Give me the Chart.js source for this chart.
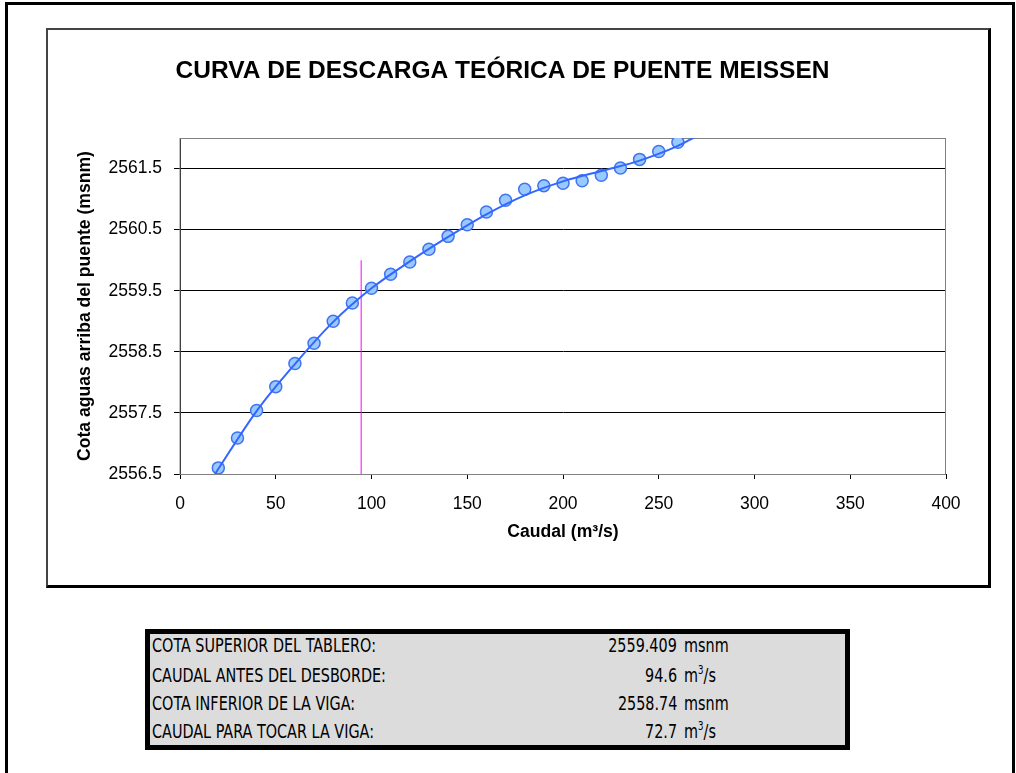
<!DOCTYPE html>
<html>
<head>
<meta charset="utf-8">
<script src="https://cdn.jsdelivr.net/npm/chart.js@4.4.1/dist/chart.umd.min.js"></script>
<style>
 body { margin: 0; background: #fff; width: 1016px; height: 773px; overflow: hidden; position: relative; font-family: "Liberation Sans", Arial, sans-serif; }
 #outer { position: absolute; left: 5px; top: 2px; width: 1004px; height: 800px; border-left: 3px solid #000; border-top: 3px solid #000; border-right: 3px solid #000; }
 #box { position: absolute; left: 46px; top: 28px; width: 940px; height: 555px; border: 2px solid #444; border-right: 3px solid #000; border-bottom: 3px solid #000; }
 #grafico { position: absolute; left: 0; top: 0; }
 #tabla { position: absolute; left: 145px; top: 629px; width: 695px; height: 111px; border: 5px solid #000; background: #dcdcdc; }
 .fila { position: absolute; left: 0; width: 695px; height: 28px; line-height: 28px; font-family: "DejaVu Sans Condensed", "DejaVu Sans", sans-serif; font-size: 20px; color: #000; }
 .fila span { position: absolute; white-space: nowrap; }
 .fila .et { left: 2px; transform: scaleX(0.8); transform-origin: left center; }
 .fila .val { right: 168px; transform: scaleX(0.8); transform-origin: right center; }
 .fila .uni { left: 534px; transform: scaleX(0.8); transform-origin: left center; }
 sup { font-size: 12px; vertical-align: 8px; line-height: 0; }
</style>
</head>
<body>
<div id="outer"></div>
<div id="box"></div>
<div id="tabla"></div>
<canvas id="grafico" width="1016" height="773"></canvas>
<script>
// puntos calculados (caudal m3/s, cota msnm)
var caudal = [20, 30, 40, 50, 60, 70, 80, 90, 100, 110, 120, 130, 140, 150, 160, 170, 180, 190, 200, 210, 220, 230, 240, 250, 260];
var cota = [2556.60, 2557.09, 2557.54, 2557.93, 2558.31, 2558.64, 2559.00, 2559.30, 2559.54, 2559.77, 2559.97, 2560.18, 2560.39, 2560.58, 2560.79, 2560.98, 2561.16, 2561.22, 2561.26, 2561.30, 2561.39, 2561.51, 2561.65, 2561.78, 2561.93];

// linea de tendencia
var tendQ = [18.3, 40, 60, 80, 100, 120, 140, 160, 180, 200, 220, 240, 260, 268];
var tendCota = [2556.5, 2557.53, 2558.30, 2558.99, 2559.54, 2559.98, 2560.38, 2560.75, 2561.06, 2561.29, 2561.46, 2561.63, 2561.87, 2562.0];

// linea vertical del desborde
var lineaQ = [94.6, 94.6];
var lineaCota = [2556.5, 2560.0];

var yTicks = [2556.5, 2557.5, 2558.5, 2559.5, 2560.5, 2561.5];

var tablaEtiquetas = ["COTA SUPERIOR DEL TABLERO:", "CAUDAL ANTES DEL DESBORDE:", "COTA INFERIOR DE LA VIGA:", "CAUDAL PARA TOCAR LA VIGA:"];
var tablaValores = ["2559.409", "94.6", "2558.74", "72.7"];
var tablaUnidades = ["msnm", "m<sup>3</sup>/s", "msnm", "m<sup>3</sup>/s"];
var filaCentro = [645, 675, 703, 731];

var tabla = document.getElementById("tabla");
tablaEtiquetas.forEach(function (et, i) {
 var d = document.createElement("div");
 d.className = "fila";
 d.style.top = (filaCentro[i] - 634 - 14) + "px";
 d.innerHTML = '<span class="et">' + et + '</span><span class="val">' + tablaValores[i] + '</span><span class="uni">' + tablaUnidades[i] + '</span>';
 tabla.appendChild(d);
});

function pares(xs, ys) {
 return xs.map(function (x, i) {
  return { x: x, y: ys[i] };
 });
}

var bordeArea = {
 id: "bordeArea",
 beforeDatasetsDraw: function (chart) {
  var a = chart.chartArea;
  var ctx = chart.ctx;
  ctx.save();
  ctx.strokeStyle = "#808080";
  ctx.lineWidth = 1;
  ctx.strokeRect(a.left, a.top + 0.5, a.right - a.left - 0.5, a.bottom - a.top);
  ctx.restore();
 },
};

var fuente = "'Liberation Sans', Arial, sans-serif";

new Chart(document.getElementById("grafico"), {
 type: "scatter",
 data: {
  datasets: [
   {
    label: "Tendencia",
    data: pares(tendQ, tendCota),
    showLine: true,
    borderColor: "#3366ff",
    borderWidth: 2,
    pointRadius: 0,
    cubicInterpolationMode: "monotone",
    fill: false,
   },
   {
    label: "Cota",
    data: pares(caudal, cota),
    showLine: false,
    pointRadius: 6,
    pointBorderWidth: 1.5,
    pointBackgroundColor: "#99c9ff",
    pointBorderColor: "#3f74f2",
   },
   {
    label: "Desborde",
    data: pares(lineaQ, lineaCota),
    showLine: true,
    borderColor: "#ff00ff",
    borderWidth: 1,
    pointRadius: 0,
   },
  ],
 },
 plugins: [bordeArea],
 options: {
  responsive: false,
  animation: false,
  layout: {
   padding: { left: 59, right: 70, top: 0, bottom: 219 },
  },
  plugins: {
   legend: { display: false },
   tooltip: { enabled: false },
   title: {
    display: true,
    text: "CURVA DE DESCARGA TEÓRICA DE PUENTE MEISSEN",
    color: "#000",
    font: { family: fuente, size: 24.5, weight: "bold" },
    padding: { top: 56.3, bottom: 52.3 },
   },
  },
  scales: {
   x: {
    type: "linear",
    min: 0,
    max: 400,
    afterFit: function (scale) {
     scale.height = 80;
    },
    ticks: {
     stepSize: 50,
     color: "#000",
     padding: 15,
     font: { family: fuente, size: 17.5 },
    },
    grid: {
     drawOnChartArea: false,
     drawTicks: true,
     tickLength: 5,
     color: "#000",
    },
    border: { display: true, color: "#000", width: 1 },
    title: {
     display: true,
     text: "Caudal (m³/s)",
     color: "#000",
     font: { family: fuente, size: 17.6, weight: "bold" },
     padding: { top: 0, bottom: 11.5 },
    },
   },
   y: {
    type: "linear",
    min: 2556.5,
    max: 2562,
    afterFit: function (scale) {
     scale.width = 121;
    },
    afterBuildTicks: function (scale) {
     scale.ticks = yTicks.map(function (v) {
      return { value: v };
     });
    },
    ticks: {
     color: "#000",
     padding: 12,
     font: { family: fuente, size: 17.5 },
     callback: function (v) {
      return v.toFixed(1);
     },
    },
    grid: {
     color: "#000",
     tickLength: 6,
    },
    border: { display: true, color: "#000", width: 1 },
    title: {
     display: true,
     text: "Cota aguas arriba del puente (msnm)",
     color: "#000",
     font: { family: fuente, size: 17.6, weight: "bold" },
     padding: { top: 15.5, bottom: 0 },
    },
   },
  },
 },
});
</script>
</body>
</html>
